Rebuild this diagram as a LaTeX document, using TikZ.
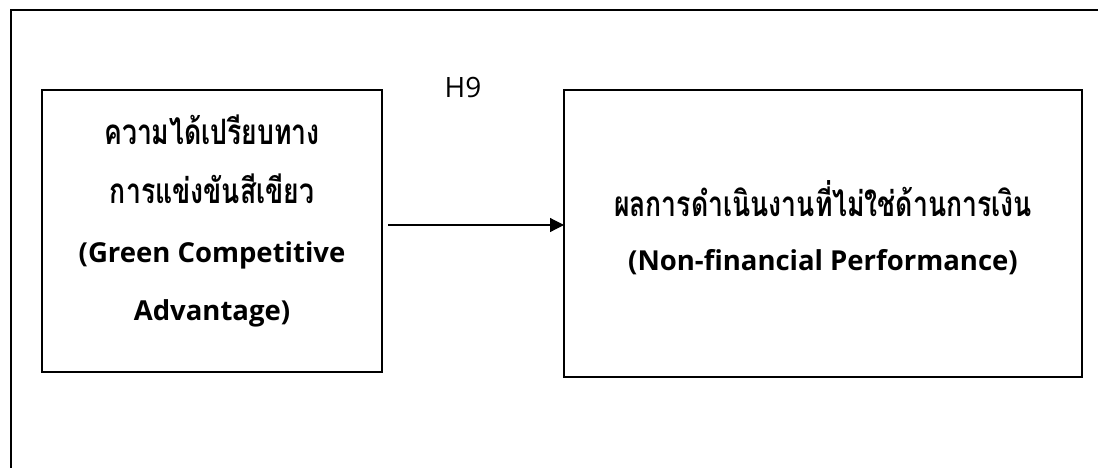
\documentclass[tikz,border=0pt]{standalone}
\usepackage{fontspec}
\setmainfont{Open Sans}
\newfontfamily\thaifont[Script=Thai,FakeStretch=0.76]{Loma}
\usetikzlibrary{arrows.meta}
\begin{document}
\begin{tikzpicture}[x=1pt,y=-1pt,
  box/.style={draw, line width=2.2pt, inner sep=0pt, outer sep=0pt, anchor=north west},
  thline/.style={anchor=base, inner sep=0pt, font=\thaifont\bfseries\fontsize{35}{40}\selectfont},
  enline/.style={anchor=base, inner sep=0pt, font=\bfseries\fontsize{27.5}{30}\selectfont},
  hlabel/.style={anchor=base, inner sep=0pt, font=\fontsize{28}{30}\selectfont},
  link/.style={line width=1.2pt, -{Triangle[length=14pt,width=14pt]}}]
\useasboundingbox (0,0) rectangle (1098,467);
\begin{scope}
  \clip (0,0) rectangle (1098,467);
  \draw[line width=2.2pt] (10.7,10) rectangle (1120,490);
\end{scope}
% boxes
\node[box, minimum width=340pt, minimum height=282pt] (gca) at (42,90) {};
\node[box, minimum width=518pt, minimum height=287pt] (nfp) at (564,90) {};
% left box text
\node[thline] (gca1) at (212,144) {ความได้เปรียบทาง};
\node[thline] (gca2) at (212,203) {การแข่งขันสีเขียว};
\node[enline] (gca3) at (212,262) {(Green Competitive};
\node[enline] (gca4) at (212,320) {Advantage)};
% right box text
\node[thline] (nfp1) at (823,216) {ผลการดำเนินงานที่ไม่ใช่ด้านการเงิน};
\node[enline] (nfp2) at (823,270) {(Non-financial Performance)};
% arrow
\draw[link] ([shift={(6,-6)}]gca.east) coordinate (a0) -- (a0 -| nfp.west);
\node[hlabel] (h9) at (463,97) {H9};
\end{tikzpicture}
\end{document}
